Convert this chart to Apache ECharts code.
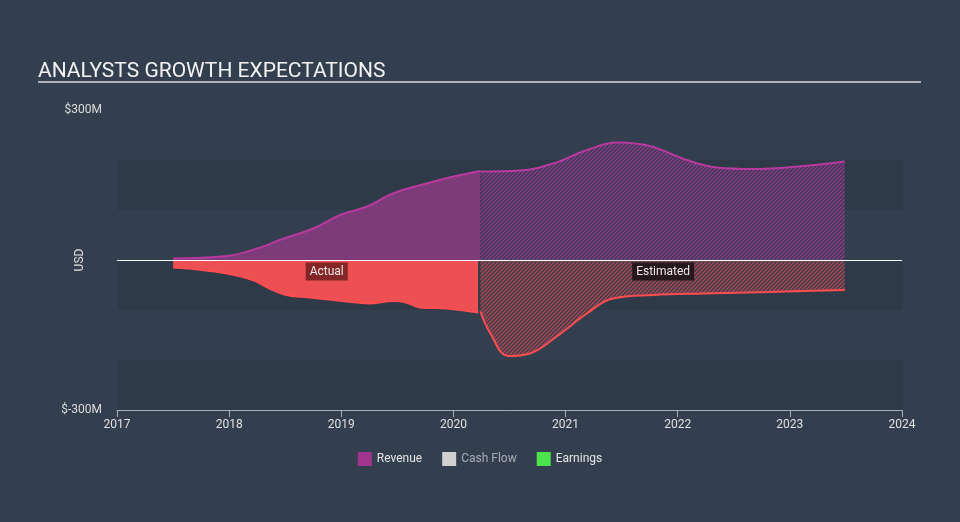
<!DOCTYPE html>
<html>
<head>
<meta charset="utf-8">
<style>
  html, body { margin: 0; padding: 0; background: #333f4f; }
  #chart { width: 960px; height: 522px; }
</style>
<script src="https://cdn.jsdelivr.net/npm/echarts@6/dist/echarts.min.js"></script>
</head>
<body>
<div id="chart"></div>
<script>
// values in $M, x = fractional year
var revenueActual = [
  [2017.50, 3], [2017.98, 8], [2018.28, 25], [2018.45, 40], [2018.75, 63],
  [2018.99, 90], [2019.23, 107], [2019.46, 133], [2019.76, 153], [2020.00, 167], [2020.24, 178]
];
var revenueEstimate = [
  [2020.24, 177], [2020.59, 179], [2020.89, 193], [2021.19, 220], [2021.46, 235],
  [2021.75, 228], [2022.08, 200], [2022.35, 185], [2022.67, 182], [2023.12, 188], [2023.49, 197]
];
var earningsActual = [
  [2017.50, -15], [2017.68, -18], [2017.98, -27], [2018.21, -40], [2018.36, -57],
  [2018.51, -70], [2018.72, -75], [2019.01, -82], [2019.25, -87], [2019.46, -82],
  [2019.58, -85], [2019.70, -95], [2019.94, -97], [2020.22, -105]
];
var earningsEstimate = [
  [2020.24, -103], [2020.33, -147], [2020.49, -192], [2020.68, -187], [2020.92, -153],
  [2021.19, -107], [2021.42, -77], [2021.78, -70], [2022.23, -67], [2022.82, -64], [2023.49, -60]
];
var legendNames = ['Revenue', 'Cash Flow', 'Earnings'];

function hatch(bg, stripe) {
  var c = document.createElement('canvas');
  c.width = 4; c.height = 4;
  var ctx = c.getContext('2d');
  ctx.fillStyle = bg;
  ctx.fillRect(0, 0, 4, 4);
  ctx.strokeStyle = stripe;
  ctx.lineWidth = 1.2;
  ctx.beginPath();
  ctx.moveTo(-1, 5); ctx.lineTo(5, -1);
  ctx.moveTo(-1, 1); ctx.lineTo(1, -1);
  ctx.moveTo(3, 5); ctx.lineTo(5, 3);
  ctx.stroke();
  return { image: c, repeat: 'repeat' };
}

var revLine = '#b83a9f';
var revFill = '#7d3b79';
var earnLine = '#ff4d50';
var earnFill = '#ec5052';

var chart = echarts.init(document.getElementById('chart'));

function area(name, data, lineColor, fillColor, extra) {
  var s = {
    name: name,
    type: 'line',
    data: data,
    smooth: 0.4,
    symbol: 'none',
    silent: true,
    lineStyle: { color: lineColor, width: 2 },
    itemStyle: { color: lineColor },
    areaStyle: { color: fillColor, opacity: 1, origin: 0 },
    z: 3
  };
  for (var k in extra) s[k] = extra[k];
  return s;
}

chart.setOption({
  animation: false,
  backgroundColor: '#333f4f',
  title: {
    text: 'ANALYSTS GROWTH EXPECTATIONS',
    left: 33,
    top: 56,
    textStyle: { color: '#f2f2f2', fontSize: 21, fontWeight: 'normal', fontFamily: 'Roboto' }
  },
  graphic: [{
    type: 'line',
    shape: { x1: 38, y1: 82, x2: 921, y2: 82 },
    style: { stroke: '#aeb2b8', lineWidth: 2 }
  }, {
    type: 'text',
    x: 80, y: 260,
    rotation: Math.PI / 2,
    style: { text: 'USD', fill: '#e0e0e0', font: '12px Roboto', align: 'center', verticalAlign: 'middle' }
  }],
  legend: {
    data: [
      { name: 'Revenue', itemStyle: { color: '#a0348f' } },
      { name: 'Cash Flow', itemStyle: { color: '#d0d0d0' }, textStyle: { color: '#a9adb3' } },
      { name: 'Earnings', itemStyle: { color: '#4ce24c' } }
    ],
    bottom: 51,
    left: 'center',
    icon: 'rect',
    itemWidth: 14,
    itemHeight: 14,
    itemGap: 20,
    selectedMode: false,
    textStyle: { color: '#e6e6e6', fontSize: 12, fontFamily: 'Roboto' }
  },
  grid: { left: 117, right: 58, top: 110, bottom: 112 },
  xAxis: {
    type: 'value',
    min: 2017,
    max: 2024,
    interval: 1,
    axisLine: { onZero: false, lineStyle: { color: '#a8b0ba', width: 1 } },
    axisTick: { show: true, length: 7, lineStyle: { color: '#a8b0ba' } },
    axisLabel: { color: '#e0e0e0', fontSize: 12, margin: 9, fontFamily: 'Roboto',
      formatter: function (v) { return String(v); } },
    splitLine: { show: false }
  },
  yAxis: {
    type: 'value',
    min: -300,
    max: 300,
    interval: 100,
    axisLine: { show: false },
    axisTick: { show: false },
    axisLabel: {
      color: '#dcdcdc', fontSize: 12, margin: 15, fontFamily: 'Roboto',
      formatter: function (v) { return (v === 300 || v === -300) ? '$' + v + 'M' : ''; }
    },
    splitLine: { show: false },
    splitArea: { show: true, areaStyle: { color: ['rgba(20,28,38,0.13)', 'rgba(0,0,0,0)'] } }
  },
  series: [
    area('Revenue', revenueActual, revLine, revFill, {}),
    area('Revenue', revenueEstimate, revLine, hatch('#3c3a55', '#9a3a92'), {}),
    area('Earnings', earningsActual, earnLine, earnFill, {
      markPoint: {
        symbol: 'rect', symbolSize: 0, silent: true,
        label: {
          show: true, position: 'inside', color: '#f0e6e6', fontSize: 12, fontFamily: 'Roboto',
          backgroundColor: 'rgba(60,10,14,0.6)', padding: [3, 4], formatter: '{b}'
        },
        data: [{ name: 'Actual', coord: [2018.87, -23] }]
      }
    }),
    area('Earnings', earningsEstimate, earnLine, hatch('#453d4e', '#b84a52'), {
      markPoint: {
        symbol: 'rect', symbolSize: 0, silent: true,
        label: {
          show: true, position: 'inside', color: '#f0e6e6', fontSize: 12, fontFamily: 'Roboto',
          backgroundColor: 'rgba(25,18,22,0.85)', padding: [3, 4], formatter: '{b}'
        },
        data: [{ name: 'Estimated', coord: [2021.87, -23] }]
      },
      markLine: {
        silent: true, symbol: 'none',
        lineStyle: { color: '#ffffff', width: 1, type: 'solid' },
        label: { show: false },
        data: [{ yAxis: 0 }]
      }
    }),
    { name: 'Cash Flow', type: 'line', data: [], itemStyle: { color: '#d0d0d0' } }
  ]
});
</script>
</body>
</html>
